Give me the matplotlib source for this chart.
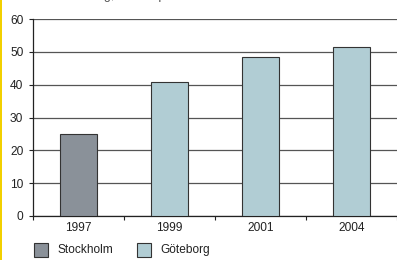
import matplotlib
matplotlib.use("Agg")
import matplotlib.pyplot as plt
from matplotlib.patches import Rectangle

plt.rcParams["font.family"] = ["Liberation Sans", "DejaVu Sans"]

years = ["1997", "1999", "2001", "2004"]
values = [25, 40.8, 48.5, 51.5]
cities = ["Stockholm", "Göteborg", "Göteborg", "Göteborg"]
legend_labels = ["Stockholm", "Göteborg"]
colors = {"Stockholm": "#8a9199", "Göteborg": "#b1cdd4"}
yticks = [0, 10, 20, 30, 40, 50, 60]
title = "Förändring, andel i procent"

fs = 8.6

fig = plt.figure(figsize=(3.97, 2.60), dpi=100)
ax = fig.add_axes([33 / 397, (260 - 216) / 260, 364 / 397, 197 / 260])

x = list(range(len(years)))
ax.bar(x, values, width=0.4, color=[colors[c] for c in cities],
       edgecolor="#333333", linewidth=0.8, zorder=3)

ax.set_xlim(-0.5, len(years) - 0.5)
ax.set_ylim(0, 60)
ax.set_yticks(yticks)
ax.set_yticklabels([str(t) for t in yticks])
ax.yaxis.grid(True, color="#555555", linewidth=0.9, zorder=0)
ax.set_axisbelow(True)

# category boundaries as ticks, labels centered
ax.set_xticks([i - 0.5 for i in range(len(years) + 1)])
ax.set_xticklabels([])
ax.set_xticks(x, minor=True)
ax.set_xticklabels(years, minor=True)
ax.tick_params(axis="x", which="minor", length=0, pad=4, labelsize=fs, labelcolor="#222222")
ax.tick_params(axis="x", which="major", length=3, width=0.8, direction="out", color="#222222")
ax.tick_params(axis="y", length=3, width=0.8, color="#222222", labelsize=fs,
               labelcolor="#222222", pad=4)

for s in ["top", "right"]:
    ax.spines[s].set_visible(False)
ax.spines["left"].set_color("#222222")
ax.spines["bottom"].set_color("#222222")
ax.spines["left"].set_linewidth(0.9)
ax.spines["bottom"].set_linewidth(0.9)

# title, mostly cut off at the top edge as in the source
fig.text(50 / 397, 1.0 + 10 / 260, title, fontsize=9, color="#555555",
         ha="left", va="top")

# legend
lx = [34, 137]
for i, lab in enumerate(legend_labels):
    fig.patches.append(Rectangle((lx[i] / 397, 3 / 260), 14 / 397, 14 / 260,
                                 transform=fig.transFigure, facecolor=colors[lab],
                                 edgecolor="#333333", linewidth=0.8))
    fig.text((lx[i] + 23) / 397, 10 / 260, lab, fontsize=fs, va="center", ha="left",
             color="#222222")

# yellow edge on the left
fig.patches.append(Rectangle((0, 0), 2 / 397, 1, transform=fig.transFigure,
                             facecolor="#f2d000", edgecolor="none"))

fig.savefig("out.png", dpi=100)
